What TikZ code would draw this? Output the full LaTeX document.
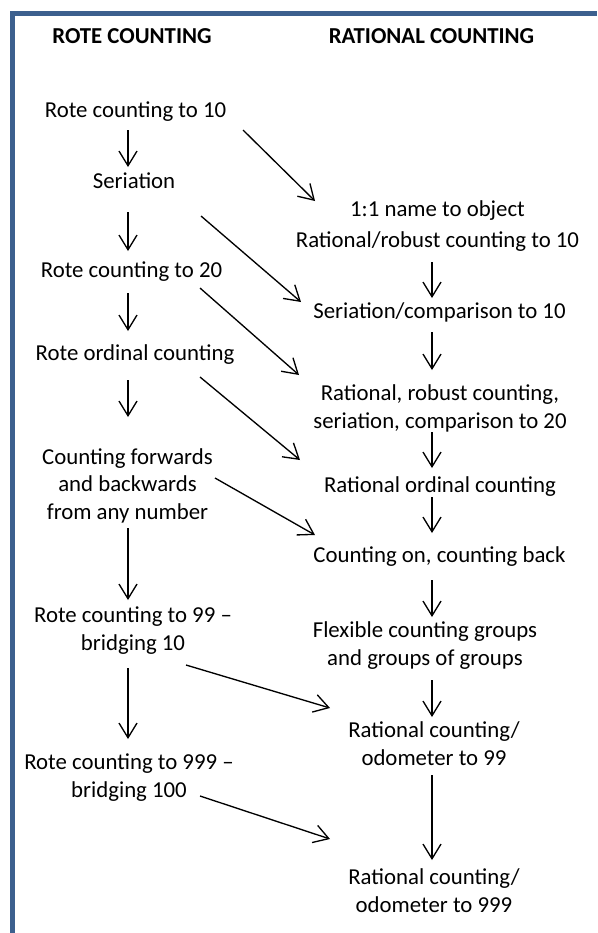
\documentclass[tikz,border=0pt]{standalone}
\usepackage{fontspec}
\setmainfont{Carlito}
\usetikzlibrary{arrows.meta,calc}
\definecolor{framecol}{RGB}{60,96,142}

\begin{document}
\begin{tikzpicture}[x=0.75pt,y=-0.75pt,
  txt/.style={inner sep=0pt,anchor=base,align=center,font=\fontsize{17.1}{20.6}\selectfont},
  head/.style={txt,font=\fontsize{17.1}{20.6}\selectfont\bfseries},
  arr/.style={line width=1pt,-{Straight Barb[length=11pt,width=13.5pt]}}]
  \useasboundingbox (0,0) rectangle (597,933);
  \draw[framecol,line width=3.4pt,line join=miter] (597,13.5) -- (12.5,13.5) -- (12.5,933);
  \coordinate (colL) at (128,0);
  \coordinate (colR) at (432,0);

  % headings
  \node[head] (hl) at (132,43) {ROTE COUNTING};
  \node[head] (hr) at (431.5,43) {RATIONAL COUNTING};

  % rote column (base = last line)
  \node[txt] (l1) at (135.5,117) {Rote counting to 10};
  \node[txt] (l2) at (134,188) {Seriation};
  \node[txt] (l3) at (131.5,277) {Rote counting to 20};
  \node[txt] (l4) at (135,360) {Rote ordinal counting};
  \node[txt] (l5) at (127.5,519) {Counting forwards\\and backwards\\from any number};
  \node[txt] (l6) at (133,650) {Rote counting to 99 –\\bridging 10};
  \node[txt] (l7) at (129,797) {Rote counting to 999 –\\bridging 100};

  % rational column
  \node[txt] (r1) at (437.5,247) {1:1 name to object\\[2pt]Rational/robust counting to 10};
  \node[txt] (r2) at (439.5,318) {Seriation/comparison to 10};
  \node[txt] (r3) at (440,428) {Rational, robust counting,\\seriation, comparison to 20};
  \node[txt] (r4) at (440,492) {Rational ordinal counting};
  \node[txt] (r5) at (439.5,562) {Counting on, counting back};
  \node[txt] (r6) at (425,665) {Flexible counting groups\\and groups of groups};
  \node[txt] (r7) at (434,765) {Rational counting/\\odometer to 99};
  \node[txt] (r8) at (434,912) {Rational counting/\\odometer to 999};

  % arrows down the columns
  \foreach \a/\s/\b/\e in {l1/13/l2/-21, l2/24/l3/-26, l3/16/l4/-29, l4/20/l5/-102, l5/9/l6/-50, l6/18/l7/-58}
    \draw[arr] ($(\a.base -| colL)+(0,\s)$) -- ($(\b.base -| colL)+(0,\e)$);
  \foreach \a/\s/\b/\e in {r1/15/r2/-20, r2/14/r3/-58, r3/4/r4/-24, r4/5/r5/-29, r5/18/r6/-48, r6/15/r7/-48, r7/10/r8/-52}
    \draw[arr] ($(\a.base -| colR)+(0,\s)$) -- ($(\b.base -| colR)+(0,\e)$);

  % arrows across
  \foreach \a/\sx/\sy/\b/\ex/\ey in {l1/107.5/13/r1/-122.5/-46, l2/67/28/r2/-138.5/-16, l3/68.5/11/r3/-141/-53,
      l4/65/17/r4/-140/-32, l5/87.5/-41/r5/-124.5/-27, l6/53/15/r7/-104/-57, l7/71/-1/r8/-104/-73}
    \draw[arr] ([shift={(\sx,\sy)}]\a.base) -- ([shift={(\ex,\ey)}]\b.base);
\end{tikzpicture}
\end{document}
